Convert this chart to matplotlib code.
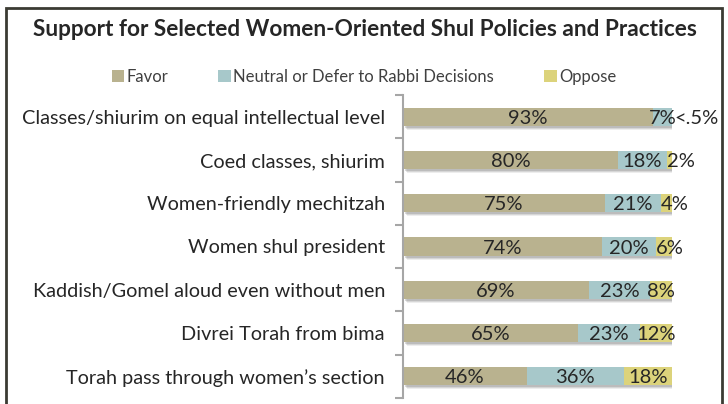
import numpy as np
import matplotlib
matplotlib.use("Agg")
from matplotlib import pyplot as plt
from matplotlib import transforms
from matplotlib.patches import Rectangle

# data
categories = [
    "Classes/shiurim on equal intellectual level",
    "Coed classes, shiurim",
    "Women-friendly mechitzah",
    "Women shul president",
    "Kaddish/Gomel aloud even without men",
    "Divrei Torah from bima",
    "Torah pass through women\u2019s section",
]
favor = [93, 80, 75, 74, 69, 65, 46]
neutral = [7, 18, 21, 20, 23, 23, 36]
oppose = [0.4, 2, 4, 6, 8, 12, 18]
oppose_labels = ["<.5%", "2%", "4%", "6%", "8%", "12%", "18%"]
series_names = ["Favor", "Neutral or Defer to Rabbi Decisions", "Oppose"]
colors = ["#B9B28F", "#A7C8CA", "#DCD37B"]

plt.rcParams["font.family"] = ["Lato", "DejaVu Sans"]
txt = "#262626"

fig = plt.figure(figsize=(7.28, 4.04), dpi=100)
ax = fig.add_axes([403 / 728, 1 - 398 / 404, 269 / 728, 303 / 404])

y = np.arange(len(categories))
h = 0.42
left_n = np.array(favor)
left_o = left_n + np.array(neutral)

# soft drop shadow behind each bar
for i in range(len(categories)):
    total = favor[i] + neutral[i] + oppose[i]
    for k, a in [(4, 0.12), (3, 0.18), (2, 0.25)]:
        tr = transforms.offset_copy(ax.transData, fig=fig, x=k * 0.72, y=-k * 0.72, units="points")
        ax.add_patch(Rectangle((0, y[i] - h / 2), total, h, transform=tr,
                               facecolor="#6f6f6f", alpha=a, edgecolor="none", zorder=1))

ax.barh(y, favor, height=h, color=colors[0], label=series_names[0], zorder=2)
ax.barh(y, neutral, left=left_n, height=h, color=colors[1], label=series_names[1], zorder=2)
ax.barh(y, oppose, left=left_o, height=h, color=colors[2], label=series_names[2], zorder=2)

fs = 14.5
for i in range(len(categories)):
    ax.text(favor[i] / 2, y[i], f"{favor[i]}%", ha="center", va="center_baseline",
            fontsize=fs, color=txt, zorder=3)
    ax.text(left_n[i] + neutral[i] / 2, y[i], f"{neutral[i]}%", ha="center", va="center_baseline",
            fontsize=fs, color=txt, zorder=3)
    # narrow oppose segments: label starts at the segment instead of centred on it
    if oppose[i] < 1:
        ax.text(left_o[i] + oppose[i] + 0.3, y[i], oppose_labels[i], ha="left", va="center_baseline",
                fontsize=fs, color=txt, zorder=3, clip_on=False)
    elif oppose[i] < 8:
        ax.text(left_o[i], y[i], oppose_labels[i], ha="left", va="center_baseline",
                fontsize=fs, color=txt, zorder=3, clip_on=False)
    else:
        ax.text(left_o[i] + oppose[i] / 2, y[i], oppose_labels[i], ha="center", va="center_baseline",
                fontsize=fs, color=txt, zorder=3, clip_on=False)

ax.set_xlim(0, 100)
ax.set_ylim(len(categories) - 0.5, -0.5)
ax.set_yticks(y)
ax.set_yticklabels(categories, fontsize=14.3, color=txt)
ax.set_yticks(np.arange(-0.5, len(categories)), minor=True)
ax.tick_params(axis="y", which="major", length=0, pad=13)
ax.tick_params(axis="y", which="minor", length=6, width=1.5, color="#A6A6A6", direction="out")
ax.set_xticks([])
for s in ["top", "right", "bottom"]:
    ax.spines[s].set_visible(False)
ax.spines["left"].set_color("#A6A6A6")
ax.spines["left"].set_linewidth(1.5)
ax.set_facecolor("none")

fig.text(365 / 728, 1 - 29 / 404, "Support for Selected Women-Oriented Shul Policies and Practices",
         ha="center", va="center", fontsize=16.3, fontweight="bold", color=txt)

handles, labels = ax.get_legend_handles_labels()
fig.legend(handles, labels, loc="center", bbox_to_anchor=(364 / 728, 1 - 77 / 404), ncol=3,
           frameon=False, fontsize=12, handlelength=0.75, handleheight=0.75,
           handletextpad=0.15, columnspacing=3.0, labelcolor="#404040")

# outer frame of the chart area
fig.add_artist(Rectangle((6 / 728, -0.05), 716 / 728, 1.05 - 8 / 404, transform=fig.transFigure,
                         fill=False, edgecolor="#3b3b33", linewidth=2))

fig.savefig("out.png", dpi=100)
